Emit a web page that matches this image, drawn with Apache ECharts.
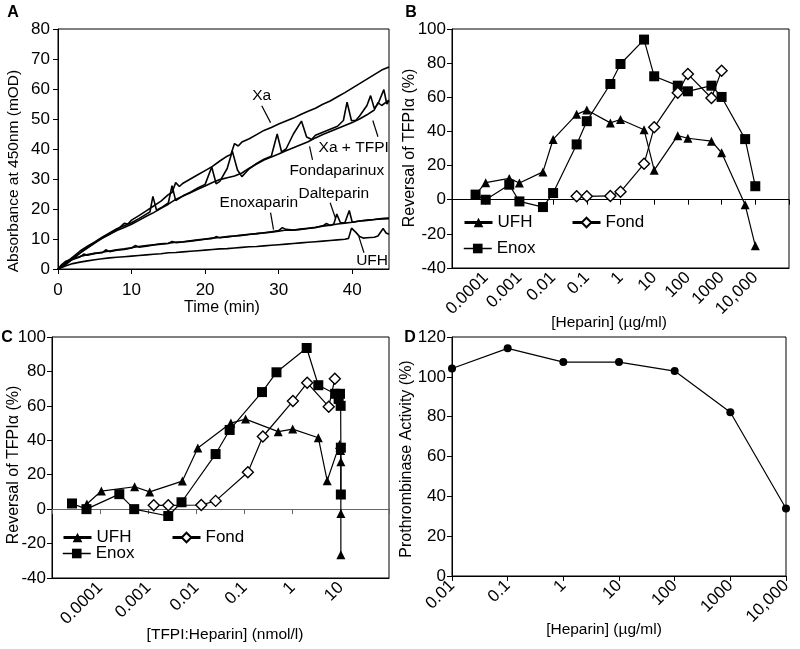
<!DOCTYPE html>
<html><head><meta charset="utf-8">
<script src="https://cdn.jsdelivr.net/npm/echarts@6/dist/echarts.min.js"></script>
<style>html,body{margin:0;padding:0;background:#fff}#c{width:800px;height:649px}</style>
</head><body><div id="c"></div><script>
// ---------- Panel A data: [time (min), absorbance (mOD)] ----------
const aTickVals = [0, 10, 20, 30, 40];
const aXa = [[0,0],[1,1.8],[2,3.8],[3,5.4],[4,7],[5,8.6],[6,10.2],[7,11.6],[8,13],[9,15.2],[9.5,15],[10,16.3],[11,17.8],[12,19.4],[13,21],[14,22.6],[15,24.8],[15.5,25.5],[16,28.8],[16.5,27.5],[17,28.6],[18,30],[19,31.4],[20,32.8],[21,34.2],[22,36],[23,37.6],[23.5,38.2],[24,41.8],[24.5,41],[25,42.3],[26,43.4],[27,44.8],[28,46.2],[29,47.2],[30,48.3],[31,49.3],[32,50.3],[33,51.5],[34,52.6],[35,53.6],[36,54.9],[37,56],[38,57.4],[39,58.8],[40,60.3],[41,61.8],[42,63.3],[43,64.8],[44,66.3],[45,67.3]];
const aXaTFPI = [[0,0],[1,1.4],[2,3.3],[3,5.3],[4,7.2],[5,8.8],[6,10.3],[7,11.6],[8,12.8],[9,13.8],[10,14.9],[11,16.2],[12,17.6],[13,18.8],[14,20.2],[15,21.6],[16,23.2],[17,24.3],[18,25.4],[19,26.6],[20,27.7],[21,28.8],[22,29.8],[23,30.4],[24,31],[25,32],[26,33.6],[27,35],[28,36.3],[29,37.3],[30,38.3],[31,39.4],[32,40.4],[33,41.4],[34,42.4],[35,43.7],[36,44.8],[37,45.8],[38,46.8],[39,47.8],[40,48.8],[41,50],[42,51.4],[43,53],[43.5,55.5],[44,54.5],[45,56.3]];
const aFonda = [[0,0],[1,2],[2,4],[3,6],[4,7.6],[5,9],[6,10.6],[7,12],[8,13.4],[9,14.4],[10,15.4],[11,16.8],[12,18.3],[12.5,19],[12.9,24.2],[13.4,19.6],[14,20.4],[15,22],[15.5,27.8],[16,22.8],[17,24.4],[18,25.6],[19,27],[20,28.2],[20.9,34],[21.5,28.4],[22,29.2],[23,33.5],[23.7,39.3],[24.4,33],[25,30.8],[26,33.4],[27,35.2],[28,36.6],[29,37.6],[29.8,45],[30.4,39],[31,40],[32,45],[33.1,49.3],[33.8,44],[34.5,43.2],[35,44.6],[36,45.6],[37,46.6],[38,47.6],[38.8,49.5],[39.3,55.6],[39.9,49.4],[40.5,49.6],[41,51],[42,54.5],[42.5,57.8],[43,53.5],[43.5,55],[44.3,59.8],[44.7,55],[45,56]];
const aEnoxa = [[0,0],[0.5,1.5],[1,2.5],[2,3.5],[3,4.2],[4,4.8],[5,5.2],[6,5.6],[7,6],[8,6.4],[9,6.7],[10,7.1],[11,7.5],[12,7.8],[13,8.1],[14,8.4],[15,8.6],[16,8.9],[17,9.1],[18,9.4],[19,9.7],[20,10],[21,10.3],[22,10.5],[23,10.8],[24,11],[25,11.3],[26,11.6],[27,11.8],[28,12.1],[29,12.4],[30,12.8],[30.5,13.8],[31,13.2],[32,13],[33,13.3],[34,13.6],[35,13.9],[36,14.3],[37,14.6],[38,15],[39,15.3],[40,15.6],[41,16],[42,16.3],[43,16.5],[44,16.8],[45,17]];
const aDalte = [[0,0],[0.5,1],[1,2],[2,3.2],[3,4],[3.5,5],[4,4.6],[5,5.2],[6,5.4],[6.5,6.4],[7,5.8],[8,6.3],[9,6.5],[10,7],[10.5,7.8],[11,7.3],[12,7.6],[13,8],[14,8.3],[15,8.5],[15.5,9.2],[16,8.8],[17,9],[18,9.3],[19,9.6],[20,9.9],[21,10.2],[21.5,10.8],[22,10.4],[23,10.7],[24,11],[25,11.2],[26,11.5],[27,11.8],[28,12],[29,12.3],[30,12.6],[31,13],[32,12.9],[33,13.2],[34,13.5],[35,13.8],[36,14.4],[36.5,15.2],[37,14.5],[37.5,15],[37.9,18.3],[38.4,15.4],[39,15.4],[39.6,19.5],[40,15.6],[41,16],[42,16.2],[43,16.5],[44,16.7],[45,16.8]];
const aUFH = [[0,0],[1,1],[2,1.8],[3,2.3],[4,2.7],[5,3.1],[6,3.4],[7,3.7],[8,3.9],[9,4.1],[10,4.3],[11,4.5],[12,4.7],[13,4.9],[14,5.1],[15,5.4],[16,5.5],[17,5.7],[18,5.9],[19,6.1],[20,6.3],[21,6.5],[22,6.7],[23,6.8],[24,7],[25,7.2],[26,7.4],[27,7.5],[28,7.7],[29,7.9],[30,8.1],[31,8.3],[32,8.5],[33,8.7],[34,8.9],[35,9.1],[36,9.3],[37,9.5],[38,9.7],[39,9.9],[39.5,10.2],[39.9,13.6],[40.5,12.2],[41,10.8],[41.5,10.3],[42,10.4],[43,10.6],[43.5,11],[44.2,13.5],[44.6,12],[45,11.6]];
// annotation labels (data coords) and arrows [from, to]
const aLabelNames = ['Xa', 'Xa + TFPI', 'Fondaparinux', 'Enoxaparin', 'Dalteparin', 'UFH'];
const aLabelPos = [[27.7,57.8],[40.2,40.4],[37.9,32.8],[27.3,22.1],[37.5,25.1],[42.7,2.8]];
const aArrows = [[[27.7,54.4],[28.9,48.8]],[[43.5,44.1],[42.8,49.5]],[[34.6,36.4],[34.2,40.9]],[[28.9,18.8],[29.3,13.1]],[[37.0,22.1],[37.7,17.1]],[[41.6,5.4],[40.9,10.8]]];

// ---------- Panel B data: [Heparin] (µg/ml) ----------
const bTickVals = [0.0001, 0.001, 0.01, 0.1, 1, 10, 100, 1000, 10000];
const bTickLabels = ['0.0001', '0.001', '0.01', '0.1', '1', '10', '100', '1000', '10,000'];
const bHeparin = [0.00005, 0.0001, 0.0005, 0.001, 0.005, 0.01, 0.05, 0.1, 0.5, 1, 5, 10, 50, 100, 500, 1000, 5000, 10000];
const bUFH  = [3, 10, 12.5, 9.8, 16.3, 35.3, 50, 52.5, 45, 47, 41, 17.3, 37.5, 36, 34.3, 27.5, -3, -27];
const bEnox = [3, 0, 8.8, -1, -4.3, 3.9, 32.4, 46, 67.8, 79.5, 93.8, 72.3, 66.8, 63.5, 66.8, 60.2, 35.5, 7.9];
const bFondX = [0.05, 0.1, 0.5, 1, 5, 10, 50, 100, 500, 1000];
const bFond = [2, 2, 2.2, 4.6, 21, 42.4, 62.7, 73.6, 59.6, 75.6];

// ---------- Panel C data: [TFPI:Heparin] (nmol/l) ----------
const cTickVals = [0.0001, 0.001, 0.01, 0.1, 1, 10];
const cTickLabels = ['0.0001', '0.001', '0.01', '0.1', '1', '10'];
const cUFHX  = [0.000053, 0.000106, 0.00052, 0.00107, 0.0051, 0.0107, 0.052, 0.105, 0.5, 1.0, 3.4, 5.2, 9.4, 9.7, 9.9, 10, 10, 10];
const cUFH   = [3, 10.5, 13, 10, 16.3, 35.5, 50, 52.3, 45, 46.5, 41.5, 16.5, 37.6, 35.8, 34, 27.5, -2.5, -26.5];
const cEnoxX = [0.000026, 0.000052, 0.00025, 0.00051, 0.0026, 0.0049, 0.025, 0.049, 0.23, 0.46, 1.95, 3.4, 7.6, 9.0, 9.6, 9.9, 10, 10];
const cEnox  = [3.3, 0, 8.7, 0, -4, 4, 32, 46, 68, 79.5, 93.6, 72, 67, 64, 67, 60, 35.7, 8.5];
const cFondX = [0.0013, 0.0026, 0.0126, 0.025, 0.117, 0.24, 1.01, 2.0, 5.6, 7.5];
const cFond  = [2.2, 2.2, 2.4, 4.8, 21.4, 42.2, 62.8, 73.4, 59.5, 75.7];

// ---------- Panel D data ----------
const dTickVals = [0.01, 0.1, 1, 10, 100, 1000, 10000];
const dTickLabels = ['0.01', '0.1', '1', '10', '100', '1000', '10,000'];
const dHeparin = [0.01, 0.1, 1, 10, 100, 1000, 10000];
const dActivity = [104.2, 114.3, 107.4, 107.4, 102.9, 82.2, 33.9];

// ---------- helpers ----------
const FONT = '"Liberation Sans", Arial, sans-serif';
function pairs(xs, ys) { return xs.map((x, i) => [x, ys[i]]); }
function logFmt(vals, labels) {
  return function (v) {
    for (let i = 0; i < vals.length; i++) {
      if (Math.abs(Math.log10(v) - Math.log10(vals[i])) < 1e-6) return labels[i];
    }
    return '';
  };
}
const blk = '#000';
const tickLbl = { color: blk, fontSize: 17, fontFamily: FONT };

function logLabelAxis(grid, min, max, vals, labels) {
  return {
    type: 'log', logBase: 10, gridIndex: grid, min: min, max: max, interval: 1, position: 'bottom',
    axisLine: { show: true, onZero: false, lineStyle: { color: blk, width: 1 } },
    axisTick: { show: false }, splitLine: { show: false }, minorTick: { show: false },
    axisLabel: Object.assign({ rotate: 45, margin: 7, formatter: logFmt(vals, labels) }, tickLbl)
  };
}
function logZeroAxis(grid, min, max, color) {
  return {
    type: 'log', logBase: 10, gridIndex: grid, min: min, max: max, interval: 1, position: 'bottom',
    axisLine: { show: true, onZero: true, lineStyle: { color: color, width: 1 } },
    axisTick: { show: true, inside: false, length: 5, lineStyle: { color: color } },
    axisLabel: { show: false }, splitLine: { show: false }
  };
}
function valY(grid, min, max, interval, margin) {
  return {
    type: 'value', gridIndex: grid, min: min, max: max, interval: interval,
    axisLine: { show: true, lineStyle: { color: blk } },
    axisTick: { show: true, inside: false, length: 5, lineStyle: { color: blk } },
    splitLine: { show: false },
    axisLabel: Object.assign({ margin: margin }, tickLbl)
  };
}
const lineA = { color: blk, width: 1.6 };
function aSeries(name, data, extra) {
  return Object.assign({ type: 'line', name: name, xAxisIndex: 0, yAxisIndex: 0, data: data,
    showSymbol: false, symbol: 'none', lineStyle: lineA, itemStyle: { color: blk }, z: 3 }, extra || {});
}
function mkSeries(name, xi, yi, data, kind) {
  const s = { type: 'line', name: name, xAxisIndex: xi, yAxisIndex: yi, data: data,
    lineStyle: { color: blk, width: 1.2 }, showSymbol: true };
  if (kind === 'tri') { s.symbol = 'triangle'; s.symbolSize = 9; s.itemStyle = { color: blk }; s.z = 4; }
  if (kind === 'sq')  { s.symbol = 'rect'; s.symbolSize = 10; s.itemStyle = { color: blk }; s.z = 3; }
  if (kind === 'dia') { s.symbol = 'diamond'; s.symbolSize = 11; s.itemStyle = { color: '#fff', borderColor: blk, borderWidth: 1.4 }; s.z = 5; }
  return s;
}
function lg(name, left, top, w) {
  return { data: [name], left: left, top: top, padding: 0, itemWidth: 28, itemHeight: 12, orient: 'horizontal',
    textStyle: { color: blk, fontSize: 17, fontFamily: FONT }, lineStyle: { width: w }, selectedMode: false };
}
function txt(x, y, text, opts) {
  opts = opts || {};
  return { type: 'text', x: x, y: y, rotation: opts.rot || 0, silent: true,
    style: { text: text, fill: blk, font: (opts.bold ? 'bold ' : '') + (opts.size || 16) + 'px ' + FONT,
      align: 'center', verticalAlign: 'middle' } };
}

const chart = echarts.init(document.getElementById('c'), null, { renderer: 'canvas' });
chart.setOption({
  animation: false,
  backgroundColor: '#fff',
  textStyle: { fontFamily: FONT },
  grid: [
    { left: 58, top: 29, width: 331, height: 240, show: true, borderColor: blk, borderWidth: 1, backgroundColor: 'transparent' },
    { left: 452, top: 29, width: 337, height: 239, show: true, borderColor: blk, borderWidth: 1, backgroundColor: 'transparent' },
    { left: 52, top: 337, width: 337, height: 241, show: true, borderColor: blk, borderWidth: 1, backgroundColor: 'transparent' },
    { left: 452, top: 337, width: 334, height: 239, show: true, borderColor: blk, borderWidth: 1, backgroundColor: 'transparent' }
  ],
  xAxis: [
    { type: 'value', gridIndex: 0, min: 0, max: 45, position: 'bottom',
      axisLine: { show: true, onZero: false, lineStyle: { color: blk } },
      axisTick: { show: true, inside: false, length: 5, customValues: aTickVals, lineStyle: { color: blk } },
      axisLabel: Object.assign({ margin: 13, customValues: aTickVals }, tickLbl), splitLine: { show: false } },
    logLabelAxis(1, 0.00001, 100000, bTickVals, bTickLabels),
    logZeroAxis(1, 0.00001, 100000, blk),
    logLabelAxis(2, 0.00001, 100, cTickVals, cTickLabels),
    logZeroAxis(2, 0.00001, 100, '#666'),
    Object.assign(logLabelAxis(3, 0.01, 10000, dTickVals, dTickLabels),
      { axisTick: { show: true, inside: false, length: 5, lineStyle: { color: blk } } })
  ],
  yAxis: [
    valY(0, 0, 80, 10, 8),
    valY(1, -40, 100, 20, 6),
    valY(2, -40, 100, 20, 6),
    valY(3, 0, 120, 20, 6)
  ],
  legend: [
    lg('UFH', 463, 214, 3), lg('Fond', 571, 214, 3), lg('Enox', 463, 240, 1.5),
    lg('UFH', 62, 529, 3), lg('Fond', 171, 529, 3), lg('Enox', 62, 545, 1.5)
  ],
  series: [
    aSeries('Xa', aXa, {
      markLine: { silent: true, symbol: ['none', 'arrow'], symbolSize: [0, 9], animation: false,
        lineStyle: { color: blk, width: 1.2, type: 'solid' }, label: { show: false },
        data: aArrows.map(a => [{ coord: a[0] }, { coord: a[1] }]) },
      markPoint: { silent: true, symbol: 'circle', symbolSize: 1, itemStyle: { color: 'rgba(0,0,0,0)' },
        label: { show: true, position: 'inside', color: blk, fontSize: 15.5, fontFamily: FONT, formatter: '{b}' },
        data: aLabelNames.map((n, i) => ({ name: n, coord: aLabelPos[i] })) }
    }),
    aSeries('Xa + TFPI', aXaTFPI),
    aSeries('Fondaparinux', aFonda),
    aSeries('Enoxaparin', aEnoxa),
    aSeries('Dalteparin', aDalte),
    aSeries('UFH (A)', aUFH),
    mkSeries('UFH', 1, 1, pairs(bHeparin, bUFH), 'tri'),
    mkSeries('Enox', 1, 1, pairs(bHeparin, bEnox), 'sq'),
    mkSeries('Fond', 1, 1, pairs(bFondX, bFond), 'dia'),
    mkSeries('UFH', 3, 2, pairs(cUFHX, cUFH), 'tri'),
    mkSeries('Enox', 3, 2, pairs(cEnoxX, cEnox), 'sq'),
    mkSeries('Fond', 3, 2, pairs(cFondX, cFond), 'dia'),
    Object.assign(mkSeries('Prothrombinase', 5, 3, pairs(dHeparin, dActivity), 'sq'),
      { symbol: 'circle', symbolSize: 8 })
  ],
  graphic: [
    txt(13, 13, 'A', { bold: true, size: 16 }),
    txt(411, 13, 'B', { bold: true, size: 16 }),
    txt(7, 338, 'C', { bold: true, size: 16 }),
    txt(410, 338, 'D', { bold: true, size: 16 }),
    txt(14, 171, 'Absorbance at 450nm (mOD)', { rot: Math.PI / 2, size: 15.5 }),
    txt(222, 308, 'Time (min)'),
    txt(410, 148, 'Reversal of TFPIα (%)', { rot: Math.PI / 2 }),
    txt(609, 323, '[Heparin] (µg/ml)', { size: 15.5 }),
    txt(14, 465, 'Reversal of TFPIα (%)', { rot: Math.PI / 2 }),
    txt(225, 635, '[TFPI:Heparin] (nmol/l)', { size: 15.5 }),
    txt(407, 459, 'Prothrombinase Activity (%)', { rot: Math.PI / 2 }),
    txt(604, 630, '[Heparin] (µg/ml)', { size: 15.5 })
  ]
});
</script></body></html>
